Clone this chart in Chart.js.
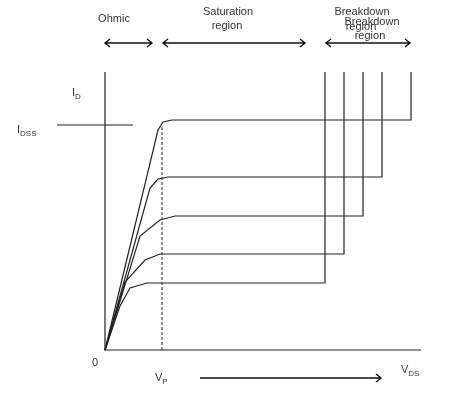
<!DOCTYPE html>
<html>
<head>
<meta charset="utf-8">
<script src="https://cdn.jsdelivr.net/npm/chart.js@4/dist/chart.umd.min.js"></script>
<style>
  body { margin: 0; background: #fff; }
  #wrap { width: 474px; height: 402px; }
</style>
</head>
<body>
<div id="wrap"><canvas id="c"></canvas></div>
<script>
// Curvas de salida del JFET (x = V_DS, y = I_D, unidades arbitrarias)
const curveX = [
  [105, 158, 163, 172, 411, 411],
  [105, 150, 158, 168, 382, 382],
  [105, 140, 160, 175, 363, 363],
  [105, 125, 145, 160, 344, 344],
  [105, 120, 130, 147, 325, 325]
];
const curveY = [
  [0, 220, 228, 230, 230, 278],
  [0, 162, 171, 173, 173, 278],
  [0, 114, 130, 134, 134, 278],
  [0, 68, 90, 96, 96, 278],
  [0, 44, 62, 67, 67, 278]
];
const idssLevel = 225;
const vpX = 162;
const xRange = [105, 421];
const yRange = [0, 278];

function pts(xs, ys) {
  return xs.map((x, i) => ({ x: x, y: ys[i] }));
}

const line = { borderColor: '#222', borderWidth: 1.2, pointRadius: 0, fill: false, tension: 0 };

const datasets = curveX.map((xs, i) => Object.assign({ data: pts(xs, curveY[i]) }, line));
// ejes
datasets.push(Object.assign({ data: [{ x: 105, y: 278 }, { x: 105, y: 0 }, { x: 421, y: 0 }] }, line));
// I_DSS
datasets.push(Object.assign({ data: [{ x: 57, y: idssLevel }, { x: 133, y: idssLevel }] }, line));
// V_P discontinua
datasets.push(Object.assign({ data: [{ x: vpX, y: 0 }, { x: vpX, y: idssLevel }], borderDash: [3, 2] }, line, { borderWidth: 1 }));

// Textos y flechas
function arrow(ctx, x1, x2, y, both) {
  ctx.beginPath();
  ctx.moveTo(x1, y); ctx.lineTo(x2, y);
  ctx.moveTo(x2 - 5, y - 4); ctx.lineTo(x2, y); ctx.lineTo(x2 - 5, y + 4);
  if (both) { ctx.moveTo(x1 + 5, y - 4); ctx.lineTo(x1, y); ctx.lineTo(x1 + 5, y + 4); }
  ctx.stroke();
}
function sub(ctx, main, s, x, y) {
  ctx.textAlign = 'left';
  ctx.font = '11px "Liberation Sans"';
  ctx.fillText(main, x, y);
  const w = ctx.measureText(main).width;
  ctx.font = '8px "Liberation Sans"';
  ctx.fillText(s, x + w, y + 4);
}
const labels = {
  id: 'afterDraw',
  afterDraw(chart) {
    const ctx = chart.ctx;
    ctx.save();
    ctx.strokeStyle = '#111';
    ctx.lineWidth = 1.4;
    ctx.fillStyle = '#333';
    arrow(ctx, 105, 152, 43, true);
    arrow(ctx, 163, 305, 43, true);
    arrow(ctx, 326, 410, 43, true);
    arrow(ctx, 200, 381, 378, false);
    ctx.textAlign = 'center';
    ctx.textBaseline = 'middle';
    ctx.font = '11px "Liberation Sans"';
    ctx.fillText('Ohmic', 114, 19);
    ctx.fillText('Saturation', 228, 12);
    ctx.fillText('region', 227, 26);
    ctx.fillText('Breakdown', 362, 12);
    ctx.fillText('region', 361, 27);
    ctx.fillText('Breakdown', 372, 22);
    ctx.fillText('region', 370, 36);
    ctx.fillText('0', 95, 363);
    sub(ctx, 'I', 'D', 72, 93);
    sub(ctx, 'I', 'DSS', 17, 130);
    sub(ctx, 'V', 'P', 155, 378);
    sub(ctx, 'V', 'DS', 401, 370);
    ctx.restore();
  }
};

new Chart(document.getElementById('c'), {
  type: 'line',
  data: { datasets: datasets },
  options: {
    responsive: true,
    maintainAspectRatio: false,
    animation: false,
    layout: { padding: { left: 105, right: 53, top: 72, bottom: 52 } },
    plugins: { legend: { display: false }, tooltip: { enabled: false } },
    scales: {
      x: { type: 'linear', min: xRange[0], max: xRange[1], display: false },
      y: { type: 'linear', min: yRange[0], max: yRange[1], display: false }
    },
    clip: false
  },
  plugins: [labels]
});
</script>
</body>
</html>
